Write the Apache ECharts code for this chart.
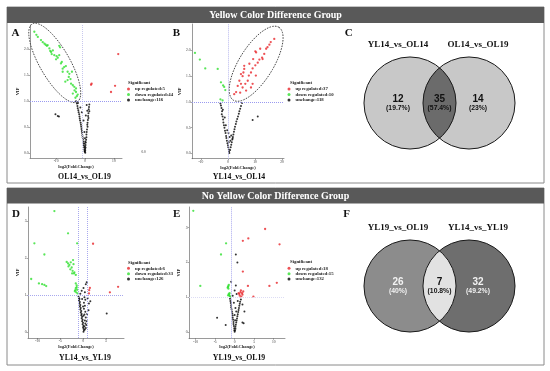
<!DOCTYPE html>
<html><head><meta charset="utf-8">
<script src="https://cdn.jsdelivr.net/npm/echarts@6/dist/echarts.min.js"></script>
<style>html,body{margin:0;padding:0;background:#fff}#c{width:550px;height:371px}</style>
</head><body><div id="c"></div>
<script>
// ---------------- DATA ----------------
const groupTop = 'Yellow Color Difference Group';
const groupBottom = 'No Yellow Color Difference Group';
const panelLetters = ['A','B','C','D','E','F'];
const plotTitles = ['OL14_vs_OL19','YL14_vs_OL14','YL14_vs_YL19','YL19_vs_OL19'];

// counts: [up, down, unchange]
const countsA = [5, 44, 116];
const countsB = [37, 10, 118];
const countsD = [6, 33, 126];
const countsE = [18, 15, 132];

const ticksA_x = [-10, 0, 10];       const ticksA_y = [0, 0.5, 1, 1.5, 2];
const ticksB_x = [-10, 0, 10, 20];   const ticksB_y = [0, 0.5, 1, 1.5, 2];
const ticksD_x = [-10, -5, 0, 5];    const ticksD_y = [0, 1, 2, 3];
const ticksE_x = [-10, -5, 0, 5, 10];const ticksE_y = [0, 1, 2, 3];

const greenA = [[-17.5,2.33],[-16.3,2.23],[-15.2,2.17],[-14.6,2.13],[-14.0,2.10],[-13.2,2.06],[-12.9,2.07],[-12.3,2.01],[-11.7,1.94],[-11.1,1.97],[-10.6,1.88],[-9.4,1.83],[-8.9,2.06],[-8.6,2.03],[-8.9,1.88],[-10.0,1.80],[-8.3,1.72],[-7.7,1.62],[-6.6,1.67],[-7.7,1.56],[-6.0,1.56],[-5.4,1.52],[-4.5,1.56],[-6.8,1.37],[-6.0,1.40],[-5.6,1.46],[-4.8,1.33],[-4.2,1.30],[-3.7,1.27],[-3.1,1.24],[-3.1,1.17],[-2.5,1.12],[-3.3,1.06],[-4.2,1.14],[-13.6,2.08],[-12.0,1.96],[-9.8,1.86],[-7.2,1.65],[-5.0,1.42],[-3.6,1.20],[-2.8,1.09],[-16.8,2.27],[-11.5,1.90],[-8.0,1.75]];
const redA = [[2.1,1.31],[11.5,1.90],[10.4,1.29],[9.0,1.17],[2.3,1.33]];
const blackA = [[-10.2,0.74],[-9.4,0.71],[-9.0,0.70],
 [-3.1,0.99],[-2.8,0.95],[-2.6,0.9],[-2.5,0.86],[-2.3,0.82],[-2.2,0.78],[-2.0,0.74],[-1.9,0.7],[-1.8,0.66],[-1.7,0.62],[-1.5,0.58],[-1.4,0.54],[-1.3,0.5],[-1.2,0.46],[-1.1,0.42],[-1.0,0.38],[-0.9,0.34],[-0.8,0.3],[-0.7,0.26],[-0.6,0.22],[-0.5,0.18],[-0.4,0.14],[-0.3,0.1],[-0.2,0.06],[-0.1,0.03],
 [1.5,0.93],[1.4,0.88],[1.3,0.84],[1.5,0.8],[1.2,0.76],[1.1,0.71],[1.2,0.67],[1.0,0.63],[0.9,0.58],[0.8,0.54],[0.9,0.5],[0.7,0.45],[0.6,0.4],[0.5,0.35],[0.5,0.3],[0.4,0.25],[0.3,0.2],[0.2,0.15],[0.2,0.1],[0.1,0.05],
 [-0.5,0.62],[-1.1,0.78],[0.3,0.72],[-0.2,0.4],[0.0,0.28],[0.1,0.22],[-0.1,0.18],[0.0,0.12],[0.05,0.08],[-0.05,0.02],[0.1,0.0],[-2.4,0.96],[0.6,0.92],[-1.6,0.87],[0.8,0.81]];

const greenB = [[-12.2,1.95],[-10.4,1.82],[-8.4,1.65],[-3.8,1.64],[-2.6,1.38],[-1.8,1.32],[-1.4,1.29],[-1.0,1.23],[-2.8,1.05],[-2.0,1.03]];
const redB = [[17.1,2.22],[15.3,2.11],[14.1,2.03],[11.9,2.03],[10.1,1.98],[13.4,1.93],[12.6,1.86],[11.6,1.82],[11.0,1.76],[10.1,1.71],[9.1,1.65],[8.5,1.57],[7.7,1.51],[6.0,1.70],[6.0,1.64],[4.8,1.54],[5.4,1.50],[7.3,1.41],[6.4,1.35],[4.8,1.35],[3.6,1.31],[5.4,1.28],[3.0,1.19],[4.5,1.18],[2.3,1.15],[6.7,1.22],[8.5,1.28],[9.1,1.35],[10.3,1.51],[7.9,1.74],[4.2,1.41],[5.7,1.57],[12.8,1.83],[15.8,2.16],[14.6,2.06],[10.4,1.96],[9.3,1.83]];
const blackB = [[-2.6,0.93],[-2.4,0.88],[-2.2,0.82],[-2.3,0.76],[-2.0,0.72],[-1.8,0.66],[-1.7,0.6],[-1.5,0.55],[-1.3,0.5],[-1.1,0.44],[-0.9,0.4],[-0.7,0.34],[-0.6,0.3],[-0.4,0.25],[-0.2,0.2],[0.0,0.16],[0.1,0.12],[0.3,0.08],[0.4,0.04],[0.5,0.01],
 [4.8,0.92],[4.5,0.87],[4.2,0.82],[4.0,0.77],[3.7,0.72],[3.4,0.67],[3.1,0.62],[2.9,0.57],[2.6,0.52],[2.4,0.47],[2.2,0.42],[2.0,0.37],[1.8,0.32],[1.6,0.27],[1.4,0.22],[1.2,0.17],[1.0,0.12],[0.8,0.07],
 [-1.9,0.85],[-1.2,0.7],[-0.8,0.55],[0.2,0.4],[1.7,0.29],[0.6,0.32],[1.2,0.35],[-0.3,0.45],[0.9,0.25],[0.3,0.22],[9.1,0.65],[11.0,0.72],[5.2,0.98],[-2.8,0.97]];

const greenD = [[-6.3,3.27],[-3.3,2.67],[-10.7,2.40],[-8.5,2.10],[-11.4,1.44],[-9.7,1.32],[-9.0,1.30],[-8.5,1.28],[-8.1,1.25],[-3.6,1.90],[-3.3,1.86],[-2.7,1.89],[-2.1,1.84],[-3.2,1.78],[-2.8,1.70],[-2.4,1.59],[-2.0,1.59],[-1.6,1.55],[-1.3,2.40],[-1.6,1.32],[-1.4,1.27],[-1.6,1.19],[-1.3,1.15],[-1.5,1.08],[-1.8,1.11],[-2.2,1.95],[-2.5,1.75],[-3.0,1.82],[-1.9,1.62],[-1.4,1.22],[-1.7,1.14],[-1.2,1.05],[-2.3,1.66]];
const redD = [[2.2,2.39],[7.7,1.23],[5.9,1.08],[1.35,1.14],[1.3,1.05],[1.5,1.2]];
const blackD = [[0.6,1.3],[0.1,1.2],[-0.3,1.12],[0.8,1.35],[-0.6,1.04],[0.4,1.08],
 [-1.0,0.97],[-0.9,0.93],[-0.8,0.9],[-0.9,0.86],[-0.7,0.82],[-0.8,0.78],[-0.6,0.74],[-0.7,0.7],[-0.5,0.66],[-0.6,0.62],[-0.4,0.58],[-0.5,0.54],[-0.3,0.5],[-0.4,0.46],[-0.2,0.42],[-0.3,0.38],[-0.1,0.34],[-0.2,0.3],[0.0,0.26],[-0.1,0.22],[0.1,0.18],[0.0,0.14],[0.1,0.1],[0.2,0.06],[0.1,0.02],
 [0.3,0.95],[0.5,0.88],[0.2,0.8],[0.4,0.72],[0.2,0.64],[0.5,0.56],[0.3,0.48],[0.6,0.4],[0.4,0.32],[0.5,0.24],[0.3,0.16],[0.4,0.08],[0.6,0.12],[0.7,0.2],[0.8,0.3],[1.0,0.92],[1.3,0.78],[1.6,0.84],[1.2,0.6],[0.9,0.5],[-0.2,0.9],[0.0,0.7],[0.1,0.45],
 [5.2,0.51]];

const greenE = [[-10.6,3.48],[-2.2,2.55],[-3.5,2.23],[-8.8,1.33],[-1.7,1.30],[-1.6,1.33],[-1.8,1.28],[-1.4,1.07],[-1.3,1.04],[-1.5,1.10],[-1.2,1.02],[-1.6,1.25],[-1.5,1.36],[-1.3,1.12],[-1.7,1.06]];
const redE = [[7.8,2.96],[3.5,2.69],[2.1,2.62],[11.5,2.52],[2.1,1.74],[3.4,1.33],[8.9,1.33],[10.8,1.42],[4.8,1.02],[1.5,1.15],[1.9,1.12],[2.0,1.08],[1.3,1.05],[2.2,1.17],[1.2,1.10],[1.7,1.02],[1.0,1.12],[1.6,1.20]];
const blackE = [[0.3,2.23],[0.7,2.0],[-0.9,1.45],[0.3,1.34],[0.0,1.2],[0.5,1.1],[-0.5,1.05],
 [-1.2,0.96],[-1.1,0.9],[-1.0,0.84],[-0.9,0.78],[-0.9,0.72],[-0.8,0.66],[-0.7,0.6],[-0.6,0.54],[-0.5,0.48],[-0.5,0.42],[-0.4,0.36],[-0.3,0.3],[-0.3,0.24],[-0.2,0.18],[-0.1,0.12],[-0.1,0.06],[0.0,0.02],
 [1.6,0.94],[1.4,0.88],[1.3,0.82],[1.2,0.76],[1.1,0.7],[1.0,0.64],[0.9,0.58],[0.8,0.52],[0.7,0.46],[0.6,0.4],[0.5,0.34],[0.4,0.28],[0.3,0.22],[0.2,0.16],[0.2,0.1],[0.1,0.05],
 [0.2,0.7],[0.0,0.5],[0.4,0.6],[-0.2,0.85],[0.8,0.9],[2.0,0.8],[2.5,0.6],
 [-4.5,0.42],[-2.3,0.21],[2.3,0.26],[2.0,0.28],[0.1,0.35]];

// Venn data
const vennC_sets = ['YL14_vs_OL14', 'OL14_vs_OL19'];
const vennC_counts = [12, 35, 14];
const vennC_pcts = ['(19.7%)', '(57.4%)', '(23%)'];
const vennF_sets = ['YL19_vs_OL19', 'YL14_vs_YL19'];
const vennF_counts = [26, 7, 32];
const vennF_pcts = ['(40%)', '(10.8%)', '(49.2%)'];

// ---------------- LAYOUT / STYLE ----------------
const SERIF = "'Liberation Serif','Times New Roman',serif";
const SANS = "'Liberation Sans',Arial,sans-serif";
const C_UP = '#e8262a', C_DOWN = '#2fe02f', C_NO = '#000000';

const plots = [
 {grid:{left:30,top:25,width:92,height:133}, x:[-19,12.8], y:[-0.1,2.46], xt:ticksA_x, yt:ticksA_y, dec:1,
  black:blackA, green:greenA, red:redA, counts:countsA, vlines:[[-1,'#c8c8ee']], hline:'#9a9af0', legend:[127,86.6],
  ellipse:{c:[-10.45,1.73], a:45, b:15, ang:60}},
 {grid:{left:192,top:24,width:92,height:134.7}, x:[-13.3,20.7], y:[-0.1,2.51], xt:ticksB_x, yt:ticksB_y, dec:1,
  black:blackB, green:greenB, red:redB, counts:countsB, vlines:[[0,'#b8b8ee']], hline:'#9a9af0', legend:[287.5,86.6],
  ellipse:{c:[10.4,1.74], a:43, b:17, ang:-58}},
 {grid:{left:28,top:207,width:96,height:131}, x:[-12.1,9.0], y:[-0.15,3.38], xt:ticksD_x, yt:ticksD_y, dec:0,
  black:blackD, green:greenD, red:redD, counts:countsD, vlines:[[-1,'#a8a8ee'],[1,'#a8a8ee']], hline:'#a8a8ee', legend:[127,265.8]},
 {grid:{left:189,top:207,width:96,height:131.3}, x:[-11.7,12.9], y:[-0.17,3.59], xt:ticksE_x, yt:ticksE_y, dec:0,
  black:blackE, green:greenE, red:redE, counts:countsE, vlines:[[-1,'#a8a8ee']], hline:'#dcdcf4', legend:[287.5,265.8]}
];

const grids = [], xAxes = [], yAxes = [], series = [], legends = [];
const axisFont = {fontSize:3.6, color:'#333', fontFamily:SERIF};

plots.forEach((p, i) => {
  grids.push(Object.assign({containLabel:false}, p.grid));
  xAxes.push({gridIndex:i, type:'value', min:p.x[0], max:p.x[1],
    axisLine:{show:true, onZero:false, lineStyle:{color:'#555', width:0.6}},
    axisTick:{show:true, length:1.5, lineStyle:{color:'#555', width:0.5}, customValues:p.xt},
    axisLabel:Object.assign({margin:1.5, customValues:p.xt, formatter:v=>String(v)}, axisFont),
    splitLine:{show:false},
    name:'log2(Fold.Change)', nameLocation:'middle', nameGap:5.5,
    nameTextStyle:{fontSize:4.5, fontWeight:'bold', fontFamily:SERIF, color:'#222'}});
  yAxes.push({gridIndex:i, type:'value', min:p.y[0], max:p.y[1],
    axisLine:{show:true, onZero:false, lineStyle:{color:'#555', width:0.6}},
    axisTick:{show:true, length:1.5, lineStyle:{color:'#555', width:0.5}, customValues:p.yt},
    axisLabel:Object.assign({margin:1.5, customValues:p.yt, formatter:v=>v.toFixed(p.dec)}, axisFont),
    splitLine:{show:false},
    name:'VIP', nameLocation:'middle', nameGap:7,
    nameTextStyle:{fontSize:4.5, fontWeight:'bold', fontFamily:SERIF, color:'#222'}});
  const nUp = 'up regulated:' + p.counts[0];
  const nDown = 'down regulated:' + p.counts[1];
  const nNo = 'unchange:' + p.counts[2];
  const mlData = p.vlines.map(v => ({xAxis:v[0], lineStyle:{color:v[1]}}));
  mlData.push({yAxis:1, lineStyle:{color:p.hline}});
  series.push({type:'scatter', name:nNo, xAxisIndex:i, yAxisIndex:i, data:p.black, symbolSize:2, itemStyle:{color:C_NO}, silent:true,
    markLine:{silent:true, symbol:'none', label:{show:false}, lineStyle:{type:'dotted', width:1}, data:mlData}, z:2});
  series.push({type:'scatter', name:nDown, xAxisIndex:i, yAxisIndex:i, data:p.green, symbolSize:2.3, itemStyle:{color:C_DOWN}, silent:true, z:3});
  series.push({type:'scatter', name:nUp, xAxisIndex:i, yAxisIndex:i, data:p.red, symbolSize:2.3, itemStyle:{color:C_UP}, silent:true, z:3});
  if (p.ellipse) {
    const e = p.ellipse;
    series.push({type:'custom', xAxisIndex:i, yAxisIndex:i, data:[e.c], silent:true, z:4,
      renderItem:(params, api) => {
        const c = api.coord([api.value(0), api.value(1)]);
        const th = e.ang * Math.PI / 180, pts = [];
        for (let k = 0; k <= 72; k++) {
          const t = k / 72 * Math.PI * 2;
          const ux = e.a * Math.cos(t), uy = e.b * Math.sin(t);
          pts.push([c[0] + ux * Math.cos(th) - uy * Math.sin(th), c[1] + ux * Math.sin(th) + uy * Math.cos(th)]);
        }
        return {type:'polyline', shape:{points:pts}, style:{stroke:'#333', lineWidth:0.9, lineDash:[1.6,1.2], fill:null}};
      }});
  }
  legends.push({left:p.legend[0], top:p.legend[1], orient:'vertical', padding:0, itemWidth:3, itemHeight:3, itemGap:0.4,
    icon:'circle', selectedMode:false, data:[nUp, nDown, nNo],
    textStyle:{fontSize:4.8, fontWeight:'bold', fontFamily:SERIF, color:'#222', lineHeight:5}});
});

// Venn grids
const vennLayouts = [
  {grid:{left:410, top:57, width:59, height:92}, sets:vennC_sets, counts:vennC_counts, pcts:vennC_pcts,
   fills:['#c8c8c8','#c8c8c8','#6b6b6b'], txt:['#111','#111','#111']},
  {grid:{left:410, top:240, width:59, height:92}, sets:vennF_sets, counts:vennF_counts, pcts:vennF_pcts,
   fills:['#8c8c8c','#6e6e6e','#e2e2e2'], txt:['#f2f2f2','#111','#f2f2f2']}
];
const VENN_R = 0.78;
vennLayouts.forEach((v, j) => {
  const gi = plots.length + j;
  grids.push(Object.assign({containLabel:false}, v.grid));
  xAxes.push({gridIndex:gi, type:'value', min:0, max:1, show:false});
  yAxes.push({gridIndex:gi, type:'value', min:0, max:1, show:false});
  series.push({type:'custom', xAxisIndex:gi, yAxisIndex:gi, data:[[0,0.5],[1,0.5]], silent:true, z:3,
    renderItem:(params, api) => {
      if (params.dataIndex !== 0) return null;
      const c1 = api.coord([0,0.5]), c2 = api.coord([1,0.5]);
      const r = api.size([VENN_R, 0])[0];
      const a = (c2[0] - c1[0]) / 2, h = Math.sqrt(r*r - a*a), th = Math.atan2(h, a);
      const lens = [];
      for (let k = 0; k <= 40; k++) { const t = -th + 2*th*k/40; lens.push([c1[0] + r*Math.cos(t), c1[1] + r*Math.sin(t)]); }
      for (let k = 0; k <= 40; k++) { const t = Math.PI - th + 2*th*k/40; lens.push([c2[0] + r*Math.cos(t), c2[1] + r*Math.sin(t)]); }
      const cy = c1[1], mx = (c1[0] + c2[0]) / 2;
      const xs = [c1[0] - 12, mx, c2[0] + 9];
      const kids = [
        {type:'circle', shape:{cx:c1[0], cy, r}, style:{fill:v.fills[0]}},
        {type:'circle', shape:{cx:c2[0], cy, r}, style:{fill:v.fills[1]}},
        {type:'polygon', shape:{points:lens}, style:{fill:v.fills[2]}},
        {type:'circle', shape:{cx:c1[0], cy, r}, style:{fill:null, stroke:'#1a1a1a', lineWidth:1}},
        {type:'circle', shape:{cx:c2[0], cy, r}, style:{fill:null, stroke:'#1a1a1a', lineWidth:1}},
        {type:'text', style:{text:v.sets[0], x:xs[0], y:cy - r - 12, fill:'#111', fontSize:9, fontWeight:'bold', fontFamily:SERIF, align:'center', verticalAlign:'middle'}},
        {type:'text', style:{text:v.sets[1], x:xs[2], y:cy - r - 12, fill:'#111', fontSize:9, fontWeight:'bold', fontFamily:SERIF, align:'center', verticalAlign:'middle'}}
      ];
      for (let k = 0; k < 3; k++) {
        kids.push({type:'text', style:{text:String(v.counts[k]), x:xs[k], y:cy - 4, fill:v.txt[k], fontSize:10, fontWeight:'bold', fontFamily:SANS, align:'center', verticalAlign:'middle'}});
        kids.push({type:'text', style:{text:v.pcts[k], x:xs[k], y:cy + 5, fill:v.txt[k], fontSize:6.8, fontWeight:'bold', fontFamily:SANS, align:'center', verticalAlign:'middle'}});
      }
      return {type:'group', children:kids};
    }});
});

// decorations
const txt = (t, x, y, size, extra) => Object.assign({type:'text', x, y, silent:true,
  style:{text:t, fontSize:size, fontWeight:'bold', fontFamily:SERIF, fill:'#111', align:'center', verticalAlign:'middle'}}, extra || {});
const graphic = [
  {type:'rect', shape:{x:7, y:7, width:537, height:176}, style:{fill:null, stroke:'#8a8a8a', lineWidth:1}, silent:true},
  {type:'rect', shape:{x:7, y:188, width:537, height:177}, style:{fill:null, stroke:'#8a8a8a', lineWidth:1}, silent:true},
  {type:'rect', shape:{x:7, y:7, width:537, height:16}, style:{fill:'#595959'}, silent:true},
  {type:'rect', shape:{x:7, y:188, width:537, height:15.5}, style:{fill:'#595959'}, silent:true},
  txt(groupTop, 275.5, 15.2, 10, {style:{text:groupTop, fontSize:10, fontWeight:'bold', fontFamily:SERIF, fill:'#fff', align:'center', verticalAlign:'middle'}}),
  txt(groupBottom, 275.5, 196, 10, {style:{text:groupBottom, fontSize:10, fontWeight:'bold', fontFamily:SERIF, fill:'#fff', align:'center', verticalAlign:'middle'}}),
  txt(panelLetters[0], 15.5, 33.5, 11), txt(panelLetters[1], 176.5, 33.5, 11), txt(panelLetters[2], 348.7, 33, 11),
  txt(panelLetters[3], 16, 214.3, 11), txt(panelLetters[4], 176.7, 214.3, 11), txt(panelLetters[5], 346.5, 214.3, 11),
  txt(plotTitles[0], 84.5, 177, 7.8), txt(plotTitles[1], 239, 177, 7.8),
  txt(plotTitles[2], 85, 358, 7.8), txt(plotTitles[3], 239, 358, 7.8),
  txt('Significant', 128, 82.7, 4.8, {style:{text:'Significant', fontSize:4.8, fontWeight:'bold', fontFamily:SERIF, fill:'#222', align:'left', verticalAlign:'middle'}}),
  txt('Significant', 290, 82.7, 4.8, {style:{text:'Significant', fontSize:4.8, fontWeight:'bold', fontFamily:SERIF, fill:'#222', align:'left', verticalAlign:'middle'}}),
  txt('Significant', 128, 262.3, 4.8, {style:{text:'Significant', fontSize:4.8, fontWeight:'bold', fontFamily:SERIF, fill:'#222', align:'left', verticalAlign:'middle'}}),
  txt('Significant', 290, 261.8, 4.8, {style:{text:'Significant', fontSize:4.8, fontWeight:'bold', fontFamily:SERIF, fill:'#222', align:'left', verticalAlign:'middle'}}),
  txt('0.0', 143.5, 152.3, 3.4, {style:{text:'0.0', fontSize:3.4, fontFamily:SERIF, fill:'#333', align:'center', verticalAlign:'middle'}})
];

const chart = echarts.init(document.getElementById('c'), null, {renderer:'canvas'});
chart.setOption({
  backgroundColor:'#ffffff', animation:false,
  grid:grids, xAxis:xAxes, yAxis:yAxes, series, legend:legends, graphic
});
</script></body></html>
